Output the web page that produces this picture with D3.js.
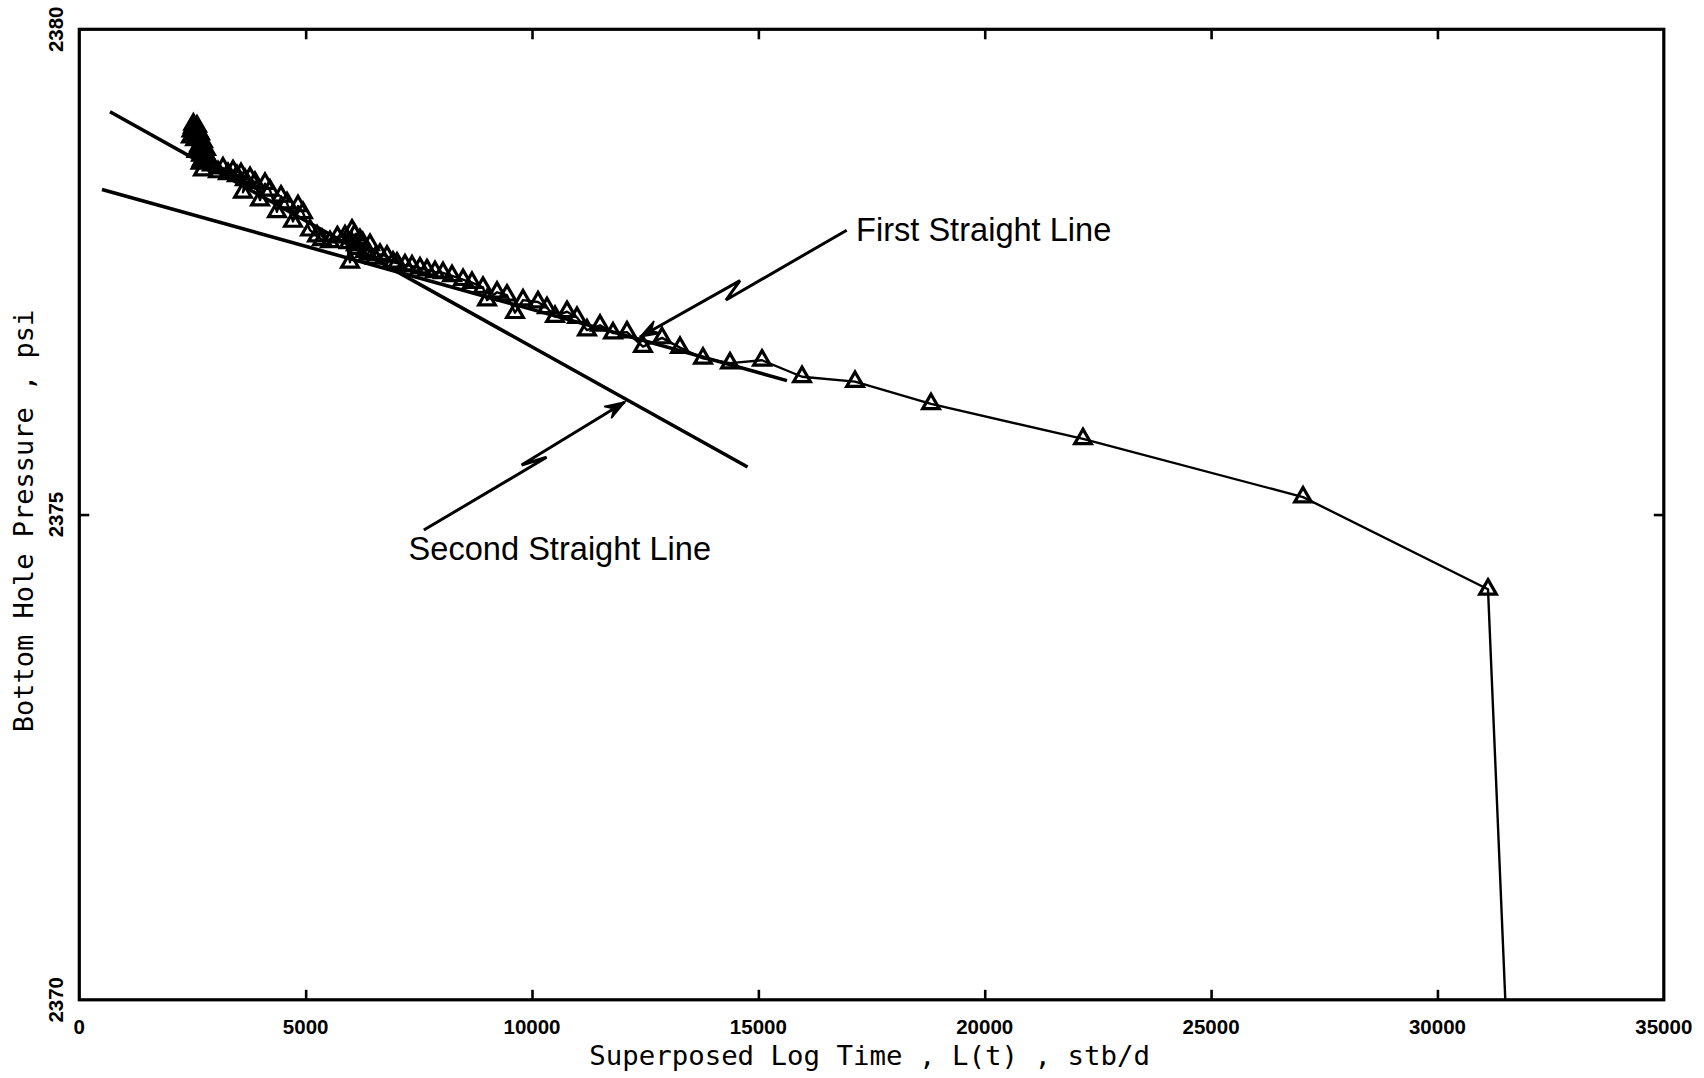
<!DOCTYPE html>
<html>
<head>
<meta charset="utf-8">
<script src="https://cdn.jsdelivr.net/npm/d3@7"></script>
<style>
  html, body { margin: 0; padding: 0; background: #fff; }
  svg { display: block; }
</style>
</head>
<body>
<svg id="chart" width="1704" height="1078"></svg>
<script>
// ---------------- data ----------------
const xTickValues = [0, 5000, 10000, 15000, 20000, 25000, 30000, 35000];
const xTickLabels = ["0", "5000", "10000", "15000", "20000", "25000", "30000", "35000"];
const yTickValues = [2370, 2375, 2380];
const yTickLabels = ["2370", "2375", "2380"];

// Superposed log time L(t)
const superTime = [
  2467, 2480, 2512, 2520, 2540, 2550, 2600, 2580, 2560, 2610,
  2666, 2640, 2620, 2700, 2732, 2650, 2590, 2720, 2700, 2690,
  2644, 2760, 2799, 2740, 2680, 2710, 2800, 2843, 2732, 2931,
  3064, 3174, 3285, 3395, 3483, 3572, 3660, 3616, 3771, 3881,
  3991, 4102, 4212, 4367, 4455, 4588, 4720, 4831, 4941, 5096,
  5251, 5361, 5538, 5700, 5869, 5980, 6024, 5950, 6112, 6080,
  6200, 6150, 6311, 6260, 6421, 6380, 6532, 6642, 6797, 6929,
  7018, 7194, 7349, 7526, 7680, 7857, 8034, 8233, 8476, 8674,
  8917, 9006, 9227, 9447, 9624, 9801, 10132, 10331, 10508, 10773,
  10994, 11214, 11502, 11789, 12098, 12451, 12871, 13269, 13777, 14373,
  15080, 15964, 17135, 18813, 22171, 27031, 31117, 31770
];
// Bottom hole pressure, psi
const pressure = [
  2378.89, 2378.95, 2378.99, 2379.02, 2378.93, 2378.98, 2379.00, 2378.92, 2378.86, 2378.96,
  2378.92, 2378.88, 2378.90, 2378.84, 2378.84, 2378.80, 2378.74, 2378.78, 2378.80, 2378.70,
  2378.76, 2378.72, 2378.76, 2378.64, 2378.62, 2378.65, 2378.66, 2378.67, 2378.55, 2378.60,
  2378.53, 2378.57, 2378.51, 2378.54, 2378.49, 2378.51, 2378.45, 2378.32, 2378.47, 2378.42,
  2378.24, 2378.41, 2378.34, 2378.12, 2378.28, 2378.21, 2378.02, 2378.18, 2378.11, 2377.93,
  2377.87, 2377.83, 2377.81, 2377.86, 2377.87, 2377.60, 2377.93, 2377.80, 2377.78, 2377.88,
  2377.83, 2377.74, 2377.71, 2377.80, 2377.78, 2377.68, 2377.64, 2377.68, 2377.66, 2377.60,
  2377.59, 2377.57, 2377.56, 2377.54, 2377.52, 2377.50, 2377.49, 2377.46, 2377.42, 2377.39,
  2377.34, 2377.21, 2377.29, 2377.26, 2377.08, 2377.21, 2377.19, 2377.13, 2377.04, 2377.09,
  2377.03, 2376.90, 2376.95, 2376.87, 2376.88, 2376.73, 2376.82, 2376.72, 2376.61, 2376.56,
  2376.59, 2376.42, 2376.37, 2376.14, 2375.78, 2375.18, 2374.23, 2367.00
];

// straight-line fits: [x, y] end points
const firstLineX = [501, 15632];
const firstLineY = [2378.35, 2376.38];
const secondLineX = [678, 14762];
const secondLineY = [2379.15, 2375.49];

// annotation arrows (lightning-style), data units
const firstArrowX = [16951, 14285, 14594, 12385];
const firstArrowY = [2377.93, 2377.21, 2377.41, 2376.83];
const secondArrowX = [7610, 10322, 9770, 12050];
const secondArrowY = [2374.84, 2375.59, 2375.51, 2376.16];

const labelTexts = ["First Straight Line", "Second Straight Line"];
const labelX = [17157, 7274];
const labelY = [2377.82, 2374.53];

const xTitle = "Superposed Log Time , L(t) , stb/d";
const yTitle = "Bottom Hole Pressure , psi";

// ---------------- layout ----------------
const W = 1704, H = 1078;
const m = { left: 79.3, right: 40.2, top: 29.3, bottom: 78.2 };
const svg = d3.select("#chart");
svg.append("rect").attr("width", W).attr("height", H).attr("fill", "#fff");

const x = d3.scaleLinear().domain([0, 35000]).range([m.left, W - m.right]);
const y = d3.scaleLinear().domain([2370, 2380]).range([H - m.bottom, m.top]);

const tickFont = "'Liberation Sans', Arial, sans-serif";
const monoFont = "'DejaVu Sans Mono', 'Liberation Mono', monospace";
const textFont = "'Liberation Sans', Arial, Helvetica, sans-serif";

svg.append("defs").append("clipPath").attr("id", "plotClip")
  .append("rect")
  .attr("x", x(0)).attr("y", y(2380))
  .attr("width", x(35000) - x(0)).attr("height", y(2370) - y(2380));

// ---------------- axes (inward ticks) ----------------
const innerXTicks = xTickValues.filter(v => v > 0 && v < 35000);
const innerYTicks = yTickValues.filter(v => v > 2370 && v < 2380);

function styleAxis(g) {
  g.select(".domain").remove();
  g.selectAll(".tick line").attr("stroke", "#000").attr("stroke-width", 2.6);
  g.selectAll(".tick text").remove();
}
svg.append("g").attr("transform", `translate(0,${y(2370)})`)
  .call(d3.axisBottom(x).tickValues(innerXTicks).tickSize(-10)).call(styleAxis);
svg.append("g").attr("transform", `translate(0,${y(2380)})`)
  .call(d3.axisTop(x).tickValues(innerXTicks).tickSize(-10)).call(styleAxis);
svg.append("g").attr("transform", `translate(${x(0)},0)`)
  .call(d3.axisLeft(y).tickValues(innerYTicks).tickSize(-10)).call(styleAxis);
svg.append("g").attr("transform", `translate(${x(35000)},0)`)
  .call(d3.axisRight(y).tickValues(innerYTicks).tickSize(-10)).call(styleAxis);

// frame
svg.append("rect")
  .attr("x", x(0)).attr("y", y(2380))
  .attr("width", x(35000) - x(0)).attr("height", y(2370) - y(2380))
  .attr("fill", "none").attr("stroke", "#000").attr("stroke-width", 3.2);

// tick labels
svg.append("g").selectAll("text").data(xTickValues).join("text")
  .attr("x", d => x(d)).attr("y", y(2370) + 34)
  .attr("text-anchor", "middle")
  .attr("font-family", tickFont).attr("font-weight", "bold").attr("font-size", 20.5)
  .text((d, i) => xTickLabels[i]);

svg.append("g").selectAll("text").data(yTickValues).join("text")
  .attr("transform", d => `translate(63,${y(d)}) rotate(-90)`)
  .attr("text-anchor", "middle")
  .attr("font-family", tickFont).attr("font-weight", "bold").attr("font-size", 20.5)
  .text((d, i) => yTickLabels[i]);

// axis titles
svg.append("text")
  .attr("x", (x(0) + x(35000)) / 2 - 2).attr("y", 1065)
  .attr("text-anchor", "middle")
  .attr("font-family", monoFont).attr("font-size", 27.4)
  .text(xTitle);
svg.append("text")
  .attr("transform", `translate(33,${521}) rotate(-90)`)
  .attr("text-anchor", "middle")
  .attr("font-family", monoFont).attr("font-size", 27)
  .text(yTitle);

// ---------------- straight lines ----------------
const lineGen = d3.line().x(d => x(d[0])).y(d => y(d[1]));
const plot = svg.append("g").attr("clip-path", "url(#plotClip)");

plot.append("path")
  .attr("d", lineGen(firstLineX.map((v, i) => [v, firstLineY[i]])))
  .attr("fill", "none").attr("stroke", "#000").attr("stroke-width", 3.6);
plot.append("path")
  .attr("d", lineGen(secondLineX.map((v, i) => [v, secondLineY[i]])))
  .attr("fill", "none").attr("stroke", "#000").attr("stroke-width", 3.6);

// ---------------- data series ----------------
const pts = superTime.map((v, i) => [v, pressure[i]]);
plot.append("path")
  .attr("d", lineGen(pts))
  .attr("fill", "none").attr("stroke", "#000").attr("stroke-width", 2.4)
  .attr("stroke-linejoin", "round");

const tri = d3.symbol().type(d3.symbolTriangle).size(120);
plot.append("g").selectAll("path").data(pts.filter(d => d[1] >= 2370)).join("path")
  .attr("transform", d => `translate(${x(d[0])},${y(d[1])})`)
  .attr("d", tri)
  .attr("fill", "none").attr("stroke", "#000").attr("stroke-width", 3.2)
  .attr("stroke-linejoin", "miter");

// ---------------- annotations ----------------
function drawArrow(xs, ys) {
  const p = xs.map((v, i) => [v, ys[i]]);
  svg.append("path").attr("d", lineGen(p))
    .attr("fill", "none").attr("stroke", "#000").attr("stroke-width", 3)
    .attr("stroke-linejoin", "miter");
  const n = p.length;
  const tx = x(p[n - 1][0]), ty = y(p[n - 1][1]);
  const fx = x(p[n - 2][0]), fy = y(p[n - 2][1]);
  const ang = Math.atan2(ty - fy, tx - fx);
  const L = 20, Wd = 7;
  const bx = tx - L * Math.cos(ang), by = ty - L * Math.sin(ang);
  const nx = -Math.sin(ang), ny = Math.cos(ang);
  svg.append("path")
    .attr("d", `M${tx},${ty}L${bx + Wd * nx},${by + Wd * ny}L${bx + 0.35 * L * Math.cos(ang)},${by + 0.35 * L * Math.sin(ang)}L${bx - Wd * nx},${by - Wd * ny}Z`)
    .attr("fill", "#000").attr("stroke", "#000").attr("stroke-width", 1.5);
}
drawArrow(firstArrowX, firstArrowY);
drawArrow(secondArrowX, secondArrowY);

svg.append("g").selectAll("text").data(labelTexts).join("text")
  .attr("x", (d, i) => x(labelX[i])).attr("y", (d, i) => y(labelY[i]))
  .attr("font-family", textFont).attr("font-size", 32.6)
  .attr("fill", "#000")
  .text(d => d);
</script>
</body>
</html>
